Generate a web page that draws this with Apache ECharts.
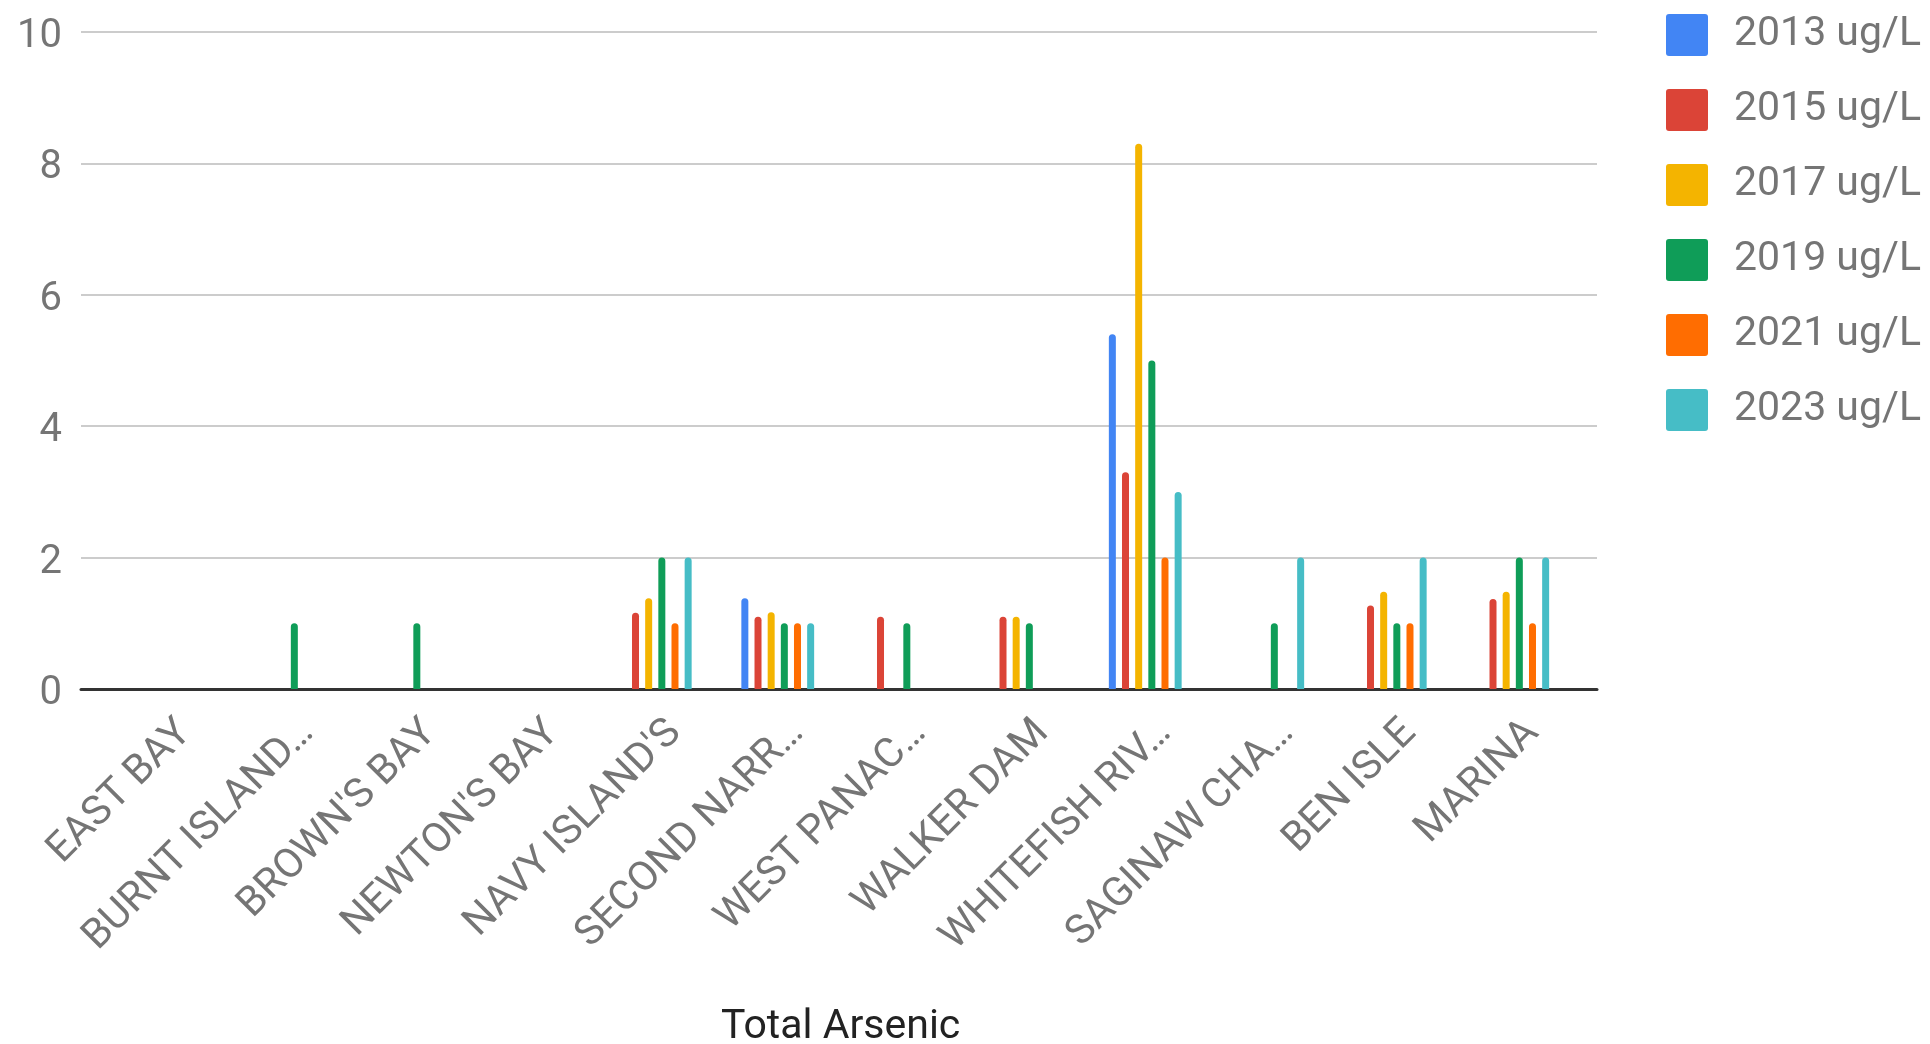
<!DOCTYPE html>
<html>
<head>
<meta charset="utf-8">
<script src="https://cdn.jsdelivr.net/npm/echarts@6/dist/echarts.min.js"></script>
<style>
  html, body { margin: 0; padding: 0; background: #fff; }
  #chart { width: 1930px; height: 1044px; }
</style>
</head>
<body>
<div id="chart"></div>
<script>
// Sampling sites along the bay
const categories = [
  "EAST BAY", "BURNT ISLAND…", "BROWN'S BAY", "NEWTON'S BAY", "NAVY ISLAND'S",
  "SECOND NARR…", "WEST PANAC…", "WALKER DAM", "WHITEFISH RIV…", "SAGINAW CHA…",
  "BEN ISLE", "MARINA"
];

// Total arsenic by survey year (ug/L); null = not sampled
const seriesNames = ["2013 ug/L", "2015 ug/L", "2017 ug/L", "2019 ug/L", "2021 ug/L", "2023 ug/L"];
const y2013 = [null, null, null, null, null, 1.38, null, null, 5.4, null, null, null];
const y2015 = [null, null, null, null, 1.16, 1.1, 1.1, 1.1, 3.3, null, 1.27, 1.37];
const y2017 = [null, null, null, null, 1.38, 1.17, null, 1.1, 8.3, null, 1.48, 1.48];
const y2019 = [null, 1, 1, null, 2, 1, 1, 1, 5, 1, 1, 2];
const y2021 = [null, null, null, null, 1, 1, null, null, 2, null, 1, 1];
const y2023 = [null, null, null, null, 2, 1, null, null, 3, 2, 2, 2];

const yTicks = [0, 2, 4, 6, 8, 10];
const colors = ["#4285F4", "#DB4437", "#F4B400", "#0F9D58", "#FF6D01", "#46BDC6"];
const seriesValues = [y2013, y2015, y2017, y2019, y2021, y2023];

const FONT = "Roboto";
const chart = echarts.init(document.getElementById("chart"));

chart.setOption({
  animation: false,
  color: colors,
  textStyle: { fontFamily: FONT },
  legend: {
    orient: "vertical",
    left: 1661,
    top: 9,
    itemWidth: 42,
    itemHeight: 42,
    itemGap: 33,
    // square swatch with slightly rounded corners
    icon: "path://M3,0 H39 Q42,0 42,3 V39 Q42,42 39,42 H3 Q0,42 0,39 V3 Q0,0 3,0 Z",
    textStyle: { fontSize: 41, color: "#757575", fontFamily: FONT, padding: [0, 0, 0, 21] },
    data: seriesNames
  },
  grid: [
    // background grid: gridlines, value labels and baseline across the full plot width
    { left: 81, right: 333, top: 32, bottom: 355 },
    // bars grid
    { left: 104, right: 356, top: 32, bottom: 355 }
  ],
  xAxis: [
    {
      gridIndex: 0, type: "value", min: 0, max: 1,
      axisLine: { show: true, lineStyle: { color: "#333", width: 3 } },
      axisTick: { show: false }, axisLabel: { show: false }, splitLine: { show: false }
    },
    {
      gridIndex: 1, type: "category", data: categories,
      axisLine: { show: false }, axisTick: { show: false },
      axisLabel: {
        interval: 0, rotate: 45, margin: 18, verticalAlign: "top", lineHeight: 56,
        fontSize: 41, color: "#757575", fontFamily: FONT
      }
    }
  ],
  yAxis: [
    {
      gridIndex: 0, type: "value", min: yTicks[0], max: yTicks[yTicks.length - 1], interval: 2,
      axisLine: { show: false }, axisTick: { show: false },
      axisLabel: {
        fontSize: 40, color: "#757575", margin: 19, fontFamily: FONT,
        verticalAlign: "top", lineHeight: 10
      },
      splitLine: { lineStyle: { color: "#cccccc", width: 2 } }
    },
    {
      gridIndex: 1, type: "value", min: yTicks[0], max: yTicks[yTicks.length - 1], interval: 2,
      show: false, splitLine: { show: false }
    }
  ],
  graphic: [
    {
      type: "text", left: 841 - 120, top: 1007,
      style: { text: "Total Arsenic", fontSize: 41, fill: "#222", fontFamily: FONT, width: 240, textAlign: "center" }
    }
  ],
  series: seriesNames.map((name, i) => ({
    name: name,
    type: "bar",
    xAxisIndex: 1,
    yAxisIndex: 1,
    barWidth: 7,
    barGap: "88%",
    data: seriesValues[i],
    itemStyle: { borderRadius: [3.5, 3.5, 0, 0] }
  }))
});
</script>
</body>
</html>
